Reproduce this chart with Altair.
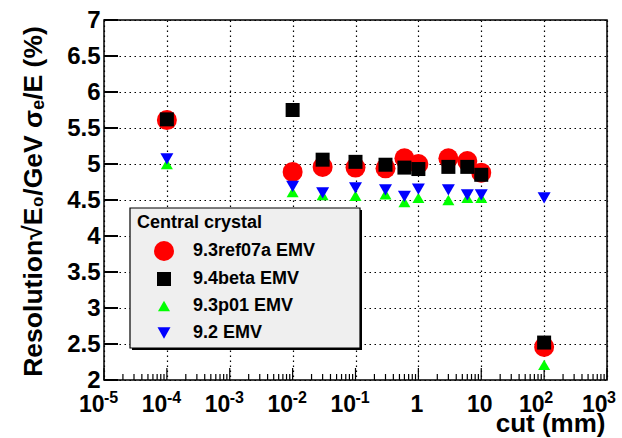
import json

import altair as alt
import pandas as pd

# Cut values (mm) shared by all four software versions
CUT_MM = [1e-4, 0.01, 0.03, 0.1, 0.3, 0.6, 1, 3, 6, 10, 100]

SERIES = ["9.3ref07a EMV", "9.4beta EMV", "9.3p01 EMV", "9.2 EMV"]
RES_93REF07A = [5.61, 4.89, 4.96, 4.95, 4.94, 5.08, 5.00, 5.08, 5.04, 4.88, 2.46]
RES_94BETA = [5.62, 5.75, 5.06, 5.03, 4.99, 4.95, 4.93, 4.96, 4.96, 4.85, 2.52]
RES_93P01 = [5.00, 4.61, 4.57, 4.56, 4.58, 4.47, 4.53, 4.50, 4.53, 4.53, 2.21]
RES_92 = [5.07, 4.69, 4.60, 4.67, 4.64, 4.55, 4.65, 4.64, 4.57, 4.57, 4.53]

COLORS = ["#ff0000", "#000000", "#00ff00", "#0000ff"]
SHAPES = ["circle", "square", "triangle-up", "triangle-down"]
SIZES = [400, 196, 144, 169]

# Decade tick labels: base text on the axis, exponent drawn as a superscript
X_DECADES = [-5, -4, -3, -2, -1, 0, 1, 2, 3]
X_TICK_BASES = ["10", "10", "10", "10", "10", "1", "10", "10", "10"]
X_TICK_EXPONENTS = ["-5", "-4", "-3", "-2", "-1", "", "", "2", "3"]
Y_TICKS = [2, 2.5, 3, 3.5, 4, 4.5, 5, 5.5, 6, 6.5, 7]

FONT = "Liberation Sans"
W, H = 503, 360

rows = []
for name, values in zip(SERIES, [RES_93REF07A, RES_94BETA, RES_93P01, RES_92]):
    for c, r in zip(CUT_MM, values):
        rows.append({"series": name, "cut": c, "res": r})
df = pd.DataFrame(rows)

major = pd.DataFrame({"cut": [10.0 ** d for d in X_DECADES]})
minor = pd.DataFrame({"cut": [m * 10.0 ** d for d in X_DECADES[:-1] for m in range(2, 10)]})
exponents = pd.DataFrame(
    [{"cut": 10.0 ** d, "exp": e} for d, e in zip(X_DECADES, X_TICK_EXPONENTS) if e]
)
yticks = pd.DataFrame({"res": Y_TICKS})
box = pd.DataFrame({"legend": ["Central crystal"]})

x_scale = alt.Scale(type="log", domain=[1e-5, 1e3], nice=False)
y_scale = alt.Scale(domain=[2, 7], zero=False, nice=False)

label_expr = json.dumps(X_TICK_BASES) + "[round(log(datum.value)/LN10)+5]"
plain_label = "datum.value > 0.5 && datum.value < 50"

x_axis = alt.Axis(
    values=[10.0 ** d for d in X_DECADES],
    labelExpr=label_expr,
    labelAlign={"condition": {"test": plain_label, "value": "center"}, "value": "right"},
    labelOffset={"condition": {"test": plain_label, "value": -2}, "value": 0},
    ticks=False,
    domain=False,
    grid=True,
    gridDash=[1.5, 3.5],
    gridColor="black",
    gridWidth=1.2,
    labelFont=FONT,
    labelFontSize=23,
    labelFontWeight="bold",
    labelColor="black",
    labelPadding=13,
    labelFlush=False,
    labelOverlap=False,
    title="cut (mm)",
    titleFont=FONT,
    titleFontSize=26,
    titleFontWeight="bold",
    titleColor="black",
    titleX=501,
    titleY=51,
    titleAlign="right",
    titleBaseline="alphabetic",
)

y_axis = alt.Axis(
    values=Y_TICKS,
    format="~g",
    ticks=False,
    domain=False,
    grid=True,
    gridDash=[1.5, 3.5],
    gridColor="black",
    gridWidth=1.2,
    labelFont=FONT,
    labelFontSize=24,
    labelFontWeight="bold",
    labelColor="black",
    labelPadding=4,
    labelFlush=False,
    labelOverlap=False,
    title="Resolution√E₀/GeV σₑ/E (%)",
    titleFont=FONT,
    titleFontSize=26.5,
    titleFontWeight="bold",
    titleColor="black",
    titleAngle=270,
    titleX=-71,
    titleY=181,
    titleAlign="center",
    titleBaseline="middle",
)

legend = alt.Legend(
    title="Central crystal",
    orient="none",
    legendX=33,
    legendY=194,
    padding=0,
    titleFont=FONT,
    titleFontSize=18,
    titleFontWeight="bold",
    titleColor="black",
    titlePadding=9,
    labelFont=FONT,
    labelFontSize=18,
    labelFontWeight="bold",
    labelColor="black",
    symbolOffset=17,
    labelOffset=19,
    rowPadding=9,
    symbolStrokeWidth=0,
    symbolOpacity=1,
)

# Legend frame with a drop shadow on the lower-right edges
shadow = alt.Chart(box).mark_rect(color="black").encode(
    x=alt.value(28), x2=alt.value(258), y=alt.value(190), y2=alt.value(330)
)
frame = alt.Chart(box).mark_rect(fill="#efefef", stroke="black", strokeWidth=1.2).encode(
    x=alt.value(26), x2=alt.value(256), y=alt.value(188), y2=alt.value(328)
)

# Inward-pointing axis ticks
y_tick_marks = alt.Chart(yticks).mark_rule(color="black", strokeWidth=2).encode(
    y=alt.Y("res:Q", scale=y_scale, axis=y_axis), x=alt.value(0), x2=alt.value(14)
)
x_major_marks = alt.Chart(major).mark_rule(color="black", strokeWidth=1.2).encode(
    x=alt.X("cut:Q", scale=x_scale, axis=x_axis), y=alt.value(H), y2=alt.value(H - 12)
)
x_minor_marks = alt.Chart(minor).mark_rule(color="black", strokeWidth=1.2).encode(
    x=alt.X("cut:Q", scale=x_scale, axis=x_axis), y=alt.value(H), y2=alt.value(H - 6)
)

# Superscript exponents next to the "10" tick labels
exp_text = alt.Chart(exponents).mark_text(
    align="left", baseline="alphabetic", font=FONT, fontSize=16, fontWeight="bold", color="black"
).encode(
    x=alt.X("cut:Q", scale=x_scale, axis=x_axis),
    y=alt.value(H + 23),
    text="exp:N",
)

points = alt.Chart(df).mark_point(filled=True, opacity=1, strokeWidth=0).encode(
    x=alt.X("cut:Q", scale=x_scale, axis=x_axis),
    y=alt.Y("res:Q", scale=y_scale, axis=y_axis),
    color=alt.Color("series:N", scale=alt.Scale(domain=SERIES, range=COLORS), sort=SERIES, legend=legend),
    shape=alt.Shape("series:N", scale=alt.Scale(domain=SERIES, range=SHAPES), sort=SERIES, legend=legend),
    size=alt.Size("series:N", scale=alt.Scale(type="ordinal", domain=SERIES, range=SIZES), sort=SERIES, legend=legend),
)

chart = (
    alt.layer(shadow, frame, y_tick_marks, x_major_marks, x_minor_marks, exp_text, points)
    .properties(
        width=W,
        height=H,
        autosize=alt.AutoSizeParams(type="none"),
        padding={"left": 104, "top": 20, "right": 15, "bottom": 58},
        background="white",
    )
    .configure_view(stroke="black", strokeWidth=1.5)
)

chart.save("out.html", embed_options={"renderer": "svg", "actions": False})
